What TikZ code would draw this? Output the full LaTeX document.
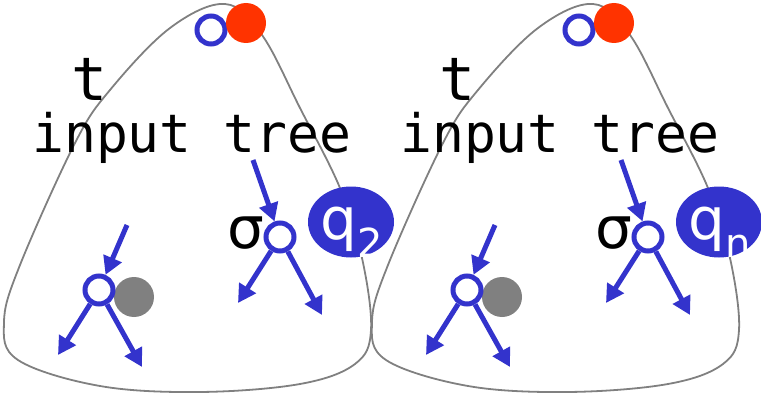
\documentclass[tikz,border=0pt]{standalone}
\usepackage{fontspec}
\usetikzlibrary{arrows.meta, shapes.geometric}
\newfontfamily\treefont{DejaVu Sans Mono}
\newfontfamily\greekfont{DejaVu Sans}
\definecolor{xblue}{HTML}{3333CC}
\definecolor{xred}{HTML}{FF3300}
\definecolor{xgray}{HTML}{808080}

\tikzset{
	blob/.style={draw=xgray, line width=1.8pt},
	ring/.style={circle, draw=xblue, fill=white, line width=5pt, minimum size=28pt, inner sep=0pt},
	dot/.style={circle, minimum size=#1, inner sep=0pt},
	edge/.style={draw=xblue, line width=5pt, -{Triangle[length=18pt, width=19pt]}},
	state/.style={ellipse, fill=xblue, minimum width=86pt, minimum height=71pt, inner sep=0pt},
}

\begin{document}
\begin{tikzpicture}[x=1pt, y=-1pt]
	\useasboundingbox (0,0) rectangle (761,396);

	\foreach \dx/\qi in {0/2, 368/n} {
		\begin{scope}[xshift=\dx pt]
			% outline of the input tree
			\draw[blob] plot[smooth cycle, tension=0.6] coordinates {(225,4) (262,35) (300,108) (340,188) (362,258) (371,330) (355,364) (300,384) (200,392) (100,386) (18,360) (4,322) (20,265) (75,143) (110,90) (170,28)};

			\node[anchor=base west, inner sep=0pt] (t\qi) at (71,100) {\treefont\fontsize{60}{60}\selectfont t};
			\node[anchor=base west, inner sep=0pt] (label\qi) at (32,153) {\treefont\fontsize{53}{60}\selectfont input tree};

			% root
			\node[ring] (root\qi) at (211,30) {};
			\node[dot=40pt, fill=xred] (rootstate\qi) at (246,23) {};

			% inner node with its state
			\node[dot=40pt, fill=xgray] (gray\qi) at (134,297) {};
			\node[ring] (inner\qi) at (99,290) {};
			\coordinate (inner-in\qi) at (127,225);
			\coordinate (inner-l\qi) at (58,355);
			\coordinate (inner-r\qi) at (142,367);
			\draw[edge] (inner-in\qi) -- (inner\qi);
			\draw[edge] (inner\qi) -- (inner-l\qi);
			\draw[edge] (inner\qi) -- (inner-r\qi);

			% sigma node
			\node[ring] (sigma\qi) at (280,237) {};
			\node[anchor=base east, inner sep=0pt] (sym\qi) at (264,248) {\greekfont\fontsize{58}{60}\selectfont σ};
			\coordinate (sigma-in\qi) at (253,160);
			\coordinate (sigma-l\qi) at (238,303);
			\coordinate (sigma-r\qi) at (322,315);
			\draw[edge] (sigma-in\qi) -- (sigma\qi);
			\draw[edge] (sigma\qi) -- (sigma-l\qi);
			\draw[edge] (sigma\qi) -- (sigma-r\qi);

			\node[state] (q\qi) at (351,222) {};
			\node[anchor=base west, inner sep=0pt, text=white] (qlabel\qi) at (320,239) {\greekfont\fontsize{58}{60}\selectfont q\lower18pt\hbox{\fontsize{40}{40}\selectfont \qi}};
		\end{scope}
	}
\end{tikzpicture}
\end{document}
